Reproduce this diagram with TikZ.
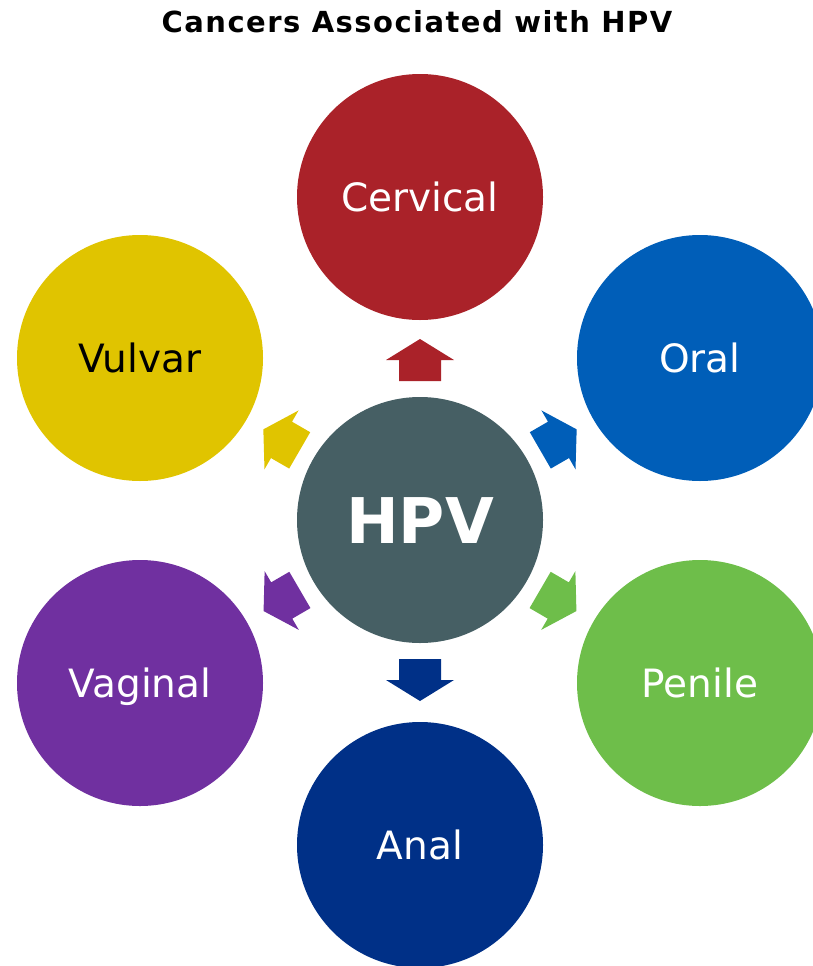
\documentclass[tikz,border=0pt]{standalone}
\usepackage{fontspec}
\setmainfont{DejaVu Sans}
\usetikzlibrary{calc}

\definecolor{hpvgrey}{HTML}{465F64}
\definecolor{cervred}{HTML}{AA2229}
\definecolor{oralblue}{HTML}{005EB8}
\definecolor{penilegreen}{HTML}{6EBE4A}
\definecolor{analblue}{HTML}{003087}
\definecolor{vagpurple}{HTML}{7030A0}
\definecolor{vulvyellow}{HTML}{E0C400}

\begin{document}
\begin{tikzpicture}[x=1pt, y=-1pt,
    cancer/.style={circle, minimum size=246pt, inner sep=0pt, text=white,
        text height=28.5pt, text depth=0pt,
        font=\fontsize{39}{42}\selectfont},
    ]
    \clip (0,0) rectangle (813,966);

    \node[font=\bfseries\fontsize{29}{32}\selectfont\addfontfeature{LetterSpace=5}]
        (title) at (417,22) {Cancers Associated with HPV};

    \node[circle, fill=hpvgrey, minimum size=246pt, inner sep=0pt, text=white,
        text height=46pt, text depth=0pt,
        font=\bfseries\fontsize{63}{66}\selectfont] (hpv) at (420,520) {HPV};

    \node[cancer, fill=cervred] (cerv) at (420,197) {Cervical};
    \node[cancer, fill=oralblue] (oral) at (700,358) {Oral};
    \node[cancer, fill=penilegreen] (pen) at (700,683) {Penile};
    \node[cancer, fill=analblue] (anal) at (420,845) {Anal};
    \node[cancer, fill=vagpurple] (vag) at (140,683) {Vaginal};
    \node[cancer, fill=vulvyellow, text=black] (vulv) at (140,358) {Vulvar};

    % block arrows from HPV out to each cancer
    \foreach \t/\c in {cerv/cervred, oral/oralblue, pen/penilegreen,
                       anal/analblue, vag/vagpurple, vulv/vulvyellow} {
        \path ($(hpv)!139pt!(\t)$) coordinate (b)
              ($(hpv)!160pt!(\t)$) coordinate (h)
              ($(hpv)!181pt!(\t)$) coordinate (tip);
        \fill[\c] ($(b)!21pt!90:(tip)$) -- ($(h)!21pt!90:(tip)$)
            -- ($(h)!34pt!90:(tip)$) -- (tip) -- ($(h)!34pt!-90:(tip)$)
            -- ($(h)!21pt!-90:(tip)$) -- ($(b)!21pt!-90:(tip)$) -- cycle;
    }
\end{tikzpicture}
\end{document}
